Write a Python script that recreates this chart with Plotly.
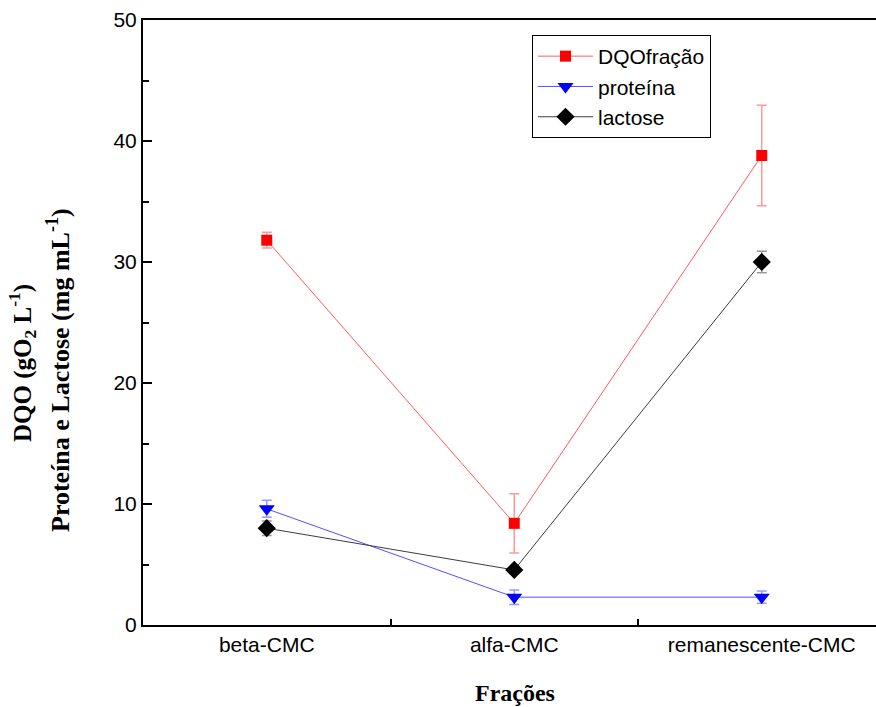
import plotly.graph_objects as go

categories = ["beta-CMC", "alfa-CMC", "remanescente-CMC"]
x_pos = [1, 2, 3]

dqo = [31.8, 8.4, 38.8]
dqo_err = [0.65, 2.45, 4.15]
proteina = [9.6, 2.3, 2.3]
proteina_err = [0.7, 0.6, 0.5]
lactose = [8.0, 4.55, 30.0]
lactose_err = [0.6, 0.3, 0.88]

y_ticks = [0, 10, 20, 30, 40, 50]

# body margin removed below, so page pixels == figure pixels
L, T, B = 143, 20, 82
PW, PH = 876 - L, 707 - T - B

def px_x(p):
    return (p - L) / PW

def px_y(p):
    return (707 - B - p) / PH

fig = go.Figure()

fig.add_trace(go.Scatter(
    x=x_pos, y=dqo, name="DQOfração", mode="lines+markers",
    line=dict(color="rgb(255,90,90)", width=1),
    marker=dict(symbol="square", size=11, color="#ff0000"),
    error_y=dict(type="data", array=dqo_err, color="rgba(255,0,0,0.4)", thickness=1.5, width=5),
))
fig.add_trace(go.Scatter(
    x=x_pos, y=proteina, name="proteína", mode="lines+markers",
    line=dict(color="rgb(80,80,255)", width=1),
    marker=dict(symbol="triangle-down", size=14, color="#0000ff"),
    error_y=dict(type="data", array=proteina_err, color="rgba(0,0,255,0.4)", thickness=1.5, width=5),
))
fig.add_trace(go.Scatter(
    x=x_pos, y=lactose, name="lactose", mode="lines+markers",
    line=dict(color="rgb(60,60,60)", width=1),
    marker=dict(symbol="diamond", size=14, color="#000000"),
    error_y=dict(type="data", array=lactose_err, color="rgba(0,0,0,0.4)", thickness=1.5, width=5),
))

fig.update_layout(
    width=876, height=707,
    margin=dict(l=L, r=0, t=T, b=B),
    paper_bgcolor="white", plot_bgcolor="white",
    font=dict(family="Liberation Sans, Arial", size=21, color="black"),
    showlegend=True,
    legend=dict(
        x=px_x(532), y=px_y(35), xanchor="left", yanchor="top",
        bordercolor="black", borderwidth=1, bgcolor="white",
        font=dict(family="Liberation Sans, Arial", size=21),
        tracegroupgap=0, itemwidth=55,
    ),
    xaxis=dict(
        range=[0.5, 0.5 + PW / 247.5], tickmode="array", tickvals=x_pos, ticktext=categories,
        ticks="", showgrid=False, zeroline=False,
        showline=True, linecolor="black", linewidth=2, mirror=True,
        minor=dict(tickmode="array", tickvals=[1.5, 2.5], ticks="inside", ticklen=6,
                   tickwidth=1.5, tickcolor="black", showgrid=False),
    ),
    yaxis=dict(
        range=[0, 50], tickmode="array", tickvals=y_ticks,
        ticks="inside", ticklen=9, tickwidth=2, tickcolor="black",
        showgrid=False, zeroline=False,
        showline=True, linecolor="black", linewidth=2,
        minor=dict(tickmode="array", tickvals=[5, 15, 25, 35, 45], ticks="inside", ticklen=6,
                   tickwidth=2, tickcolor="black", showgrid=False),
    ),
)

serif = "Liberation Serif, Times New Roman"

fig.add_annotation(
    text="<b>DQO (gO<sub>2</sub> L<sup>-1</sup>)</b>",
    xref="paper", yref="paper", x=px_x(2), y=px_y(363),
    xanchor="left", yanchor="middle", textangle=-90, showarrow=False,
    font=dict(family=serif, size=25, color="black"),
)
fig.add_annotation(
    text="<b>Proteína e Lactose (mg mL<sup>-1</sup>)</b>",
    xref="paper", yref="paper", x=px_x(58), y=px_y(370),
    xanchor="center", yanchor="middle", textangle=-90, showarrow=False,
    font=dict(family=serif, size=26, color="black"),
)
fig.add_annotation(
    text="<b>Frações</b>",
    xref="paper", yref="paper", x=px_x(515), y=px_y(693),
    xanchor="center", yanchor="middle", showarrow=False,
    font=dict(family=serif, size=24, color="black"),
)

fig.write_html("out.html", config={"displayModeBar": False},
               post_script="document.body.style.margin='0';")
